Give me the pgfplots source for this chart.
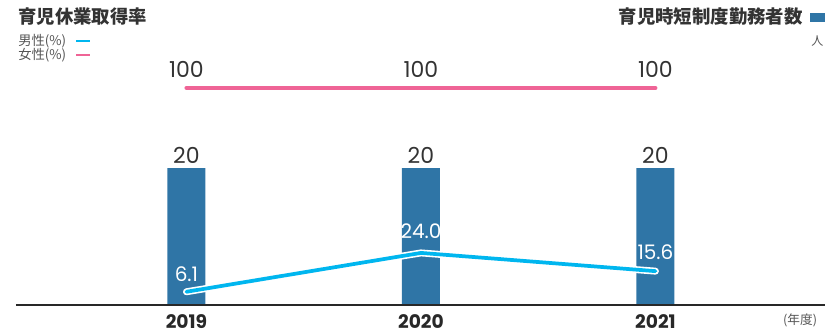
\documentclass[border=0pt]{standalone}
\usepackage{pgfplots}
\pgfplotsset{compat=1.18}
\usepackage{fontspec}
\setmainfont{Poppins}
\newfontfamily\jp{Noto Sans CJK JP}
\definecolor{barblue}{RGB}{47,117,166}
\definecolor{malecyan}{RGB}{0,182,239}
\definecolor{femalepink}{RGB}{239,100,150}
\definecolor{textdark}{RGB}{51,51,51}
\definecolor{textgray}{RGB}{85,85,85}
\definecolor{axisdark}{RGB}{40,40,40}
\begin{document}
\begin{tikzpicture}
\useasboundingbox (0,0) rectangle (618.75pt,250.5pt);
% bars: childcare short-time workers
\begin{axis}[scale only axis, width=618.75pt, height=250.5pt, at={(0,0)}, anchor=south west,
  xmin=-0.795, xmax=2.723, ymin=-4.234, ymax=44.53, hide axis, clip=false,
  /pgf/number format/assume math mode=true]
\addplot[ybar, bar width=28.5pt, fill=barblue, draw=none,
  nodes near coords,
  nodes near coords style={font=\fontsize{16.5}{18}\selectfont, text=textdark, anchor=south, inner sep=0pt, yshift=3pt}]
  coordinates {(0,20) (1,20) (2,20)};
\draw[line width=1.9pt, color=axisdark] (axis cs:-0.727,0) -- (axis cs:2.723,0);
\end{axis}
% lines: childcare leave rates
\begin{axis}[scale only axis, width=618.75pt, height=250.5pt, at={(0,0)}, anchor=south west,
  xmin=-0.795, xmax=2.723, ymin=-13.36, ymax=140.55, hide axis, clip=false,
  /pgf/number format/assume math mode=true]
\addplot[white, line width=5.2pt, line cap=round, line join=round] coordinates {(0,6.1) (1,24.0) (2,15.6)};
\addplot[malecyan, line width=2.8pt, line cap=round, line join=round] coordinates {(0,6.1) (1,24.0) (2,15.6)};
\addplot[femalepink, line width=3pt, line cap=round,
  nodes near coords,
  nodes near coords style={font=\fontsize{16.5}{18}\selectfont, text=textdark, anchor=south, inner sep=0pt, yshift=6pt}]
  coordinates {(0,100) (1,100) (2,100)};
\node[font=\fontsize{15}{17}\selectfont, text=white, anchor=south, inner sep=0pt, yshift=7.5pt] at (axis cs:0,6.1) {6.1};
\node[font=\fontsize{15}{17}\selectfont, text=white, anchor=south, inner sep=0pt, yshift=10.5pt] at (axis cs:1,24.0) {24.0};
\node[font=\fontsize{15}{17}\selectfont, text=white, anchor=south, inner sep=0pt, yshift=8.5pt] at (axis cs:2,15.6) {15.6};
% year labels
\node[font=\bfseries\fontsize{14}{16}\selectfont, text=axisdark, inner sep=0pt] at (axis cs:0,-7.4) {2019};
\node[font=\bfseries\fontsize{14}{16}\selectfont, text=axisdark, inner sep=0pt] at (axis cs:1,-7.4) {2020};
\node[font=\bfseries\fontsize{14}{16}\selectfont, text=axisdark, inner sep=0pt] at (axis cs:2,-7.4) {2021};
\end{axis}
% titles and legend
\node[anchor=west, inner sep=0pt, font=\jp\bfseries\fontsize{13.8}{15}\selectfont, text=textdark] at (13.5pt,237.75pt) {育児休業取得率};
\node[anchor=west, inner sep=0pt, font=\jp\fontsize{10}{11}\selectfont, text=textgray] at (13.5pt,219.75pt) {男性(\%)};
\node[anchor=west, inner sep=0pt, font=\jp\fontsize{10}{11}\selectfont, text=textgray] at (13.5pt,208.9pt) {女性(\%)};
\draw[malecyan, line width=2.2pt] (57pt,219.75pt) -- (67.5pt,219.75pt);
\draw[femalepink, line width=2.2pt] (57pt,209.25pt) -- (67.5pt,209.25pt);
\node[anchor=east, inner sep=0pt, font=\jp\bfseries\fontsize{13.8}{15}\selectfont, text=textdark] at (602.25pt,237.75pt) {育児時短制度勤務者数};
\fill[barblue] (607.5pt,234pt) rectangle (618.75pt,240.75pt);
\node[inner sep=0pt, font=\jp\fontsize{9}{10}\selectfont, text=textgray] at (613pt,220pt) {人};
\node[anchor=east, inner sep=0pt, font=\jp\fontsize{9.5}{10}\selectfont, text=textgray] at (613pt,10.5pt) {(年度)};
\end{tikzpicture}
\end{document}
